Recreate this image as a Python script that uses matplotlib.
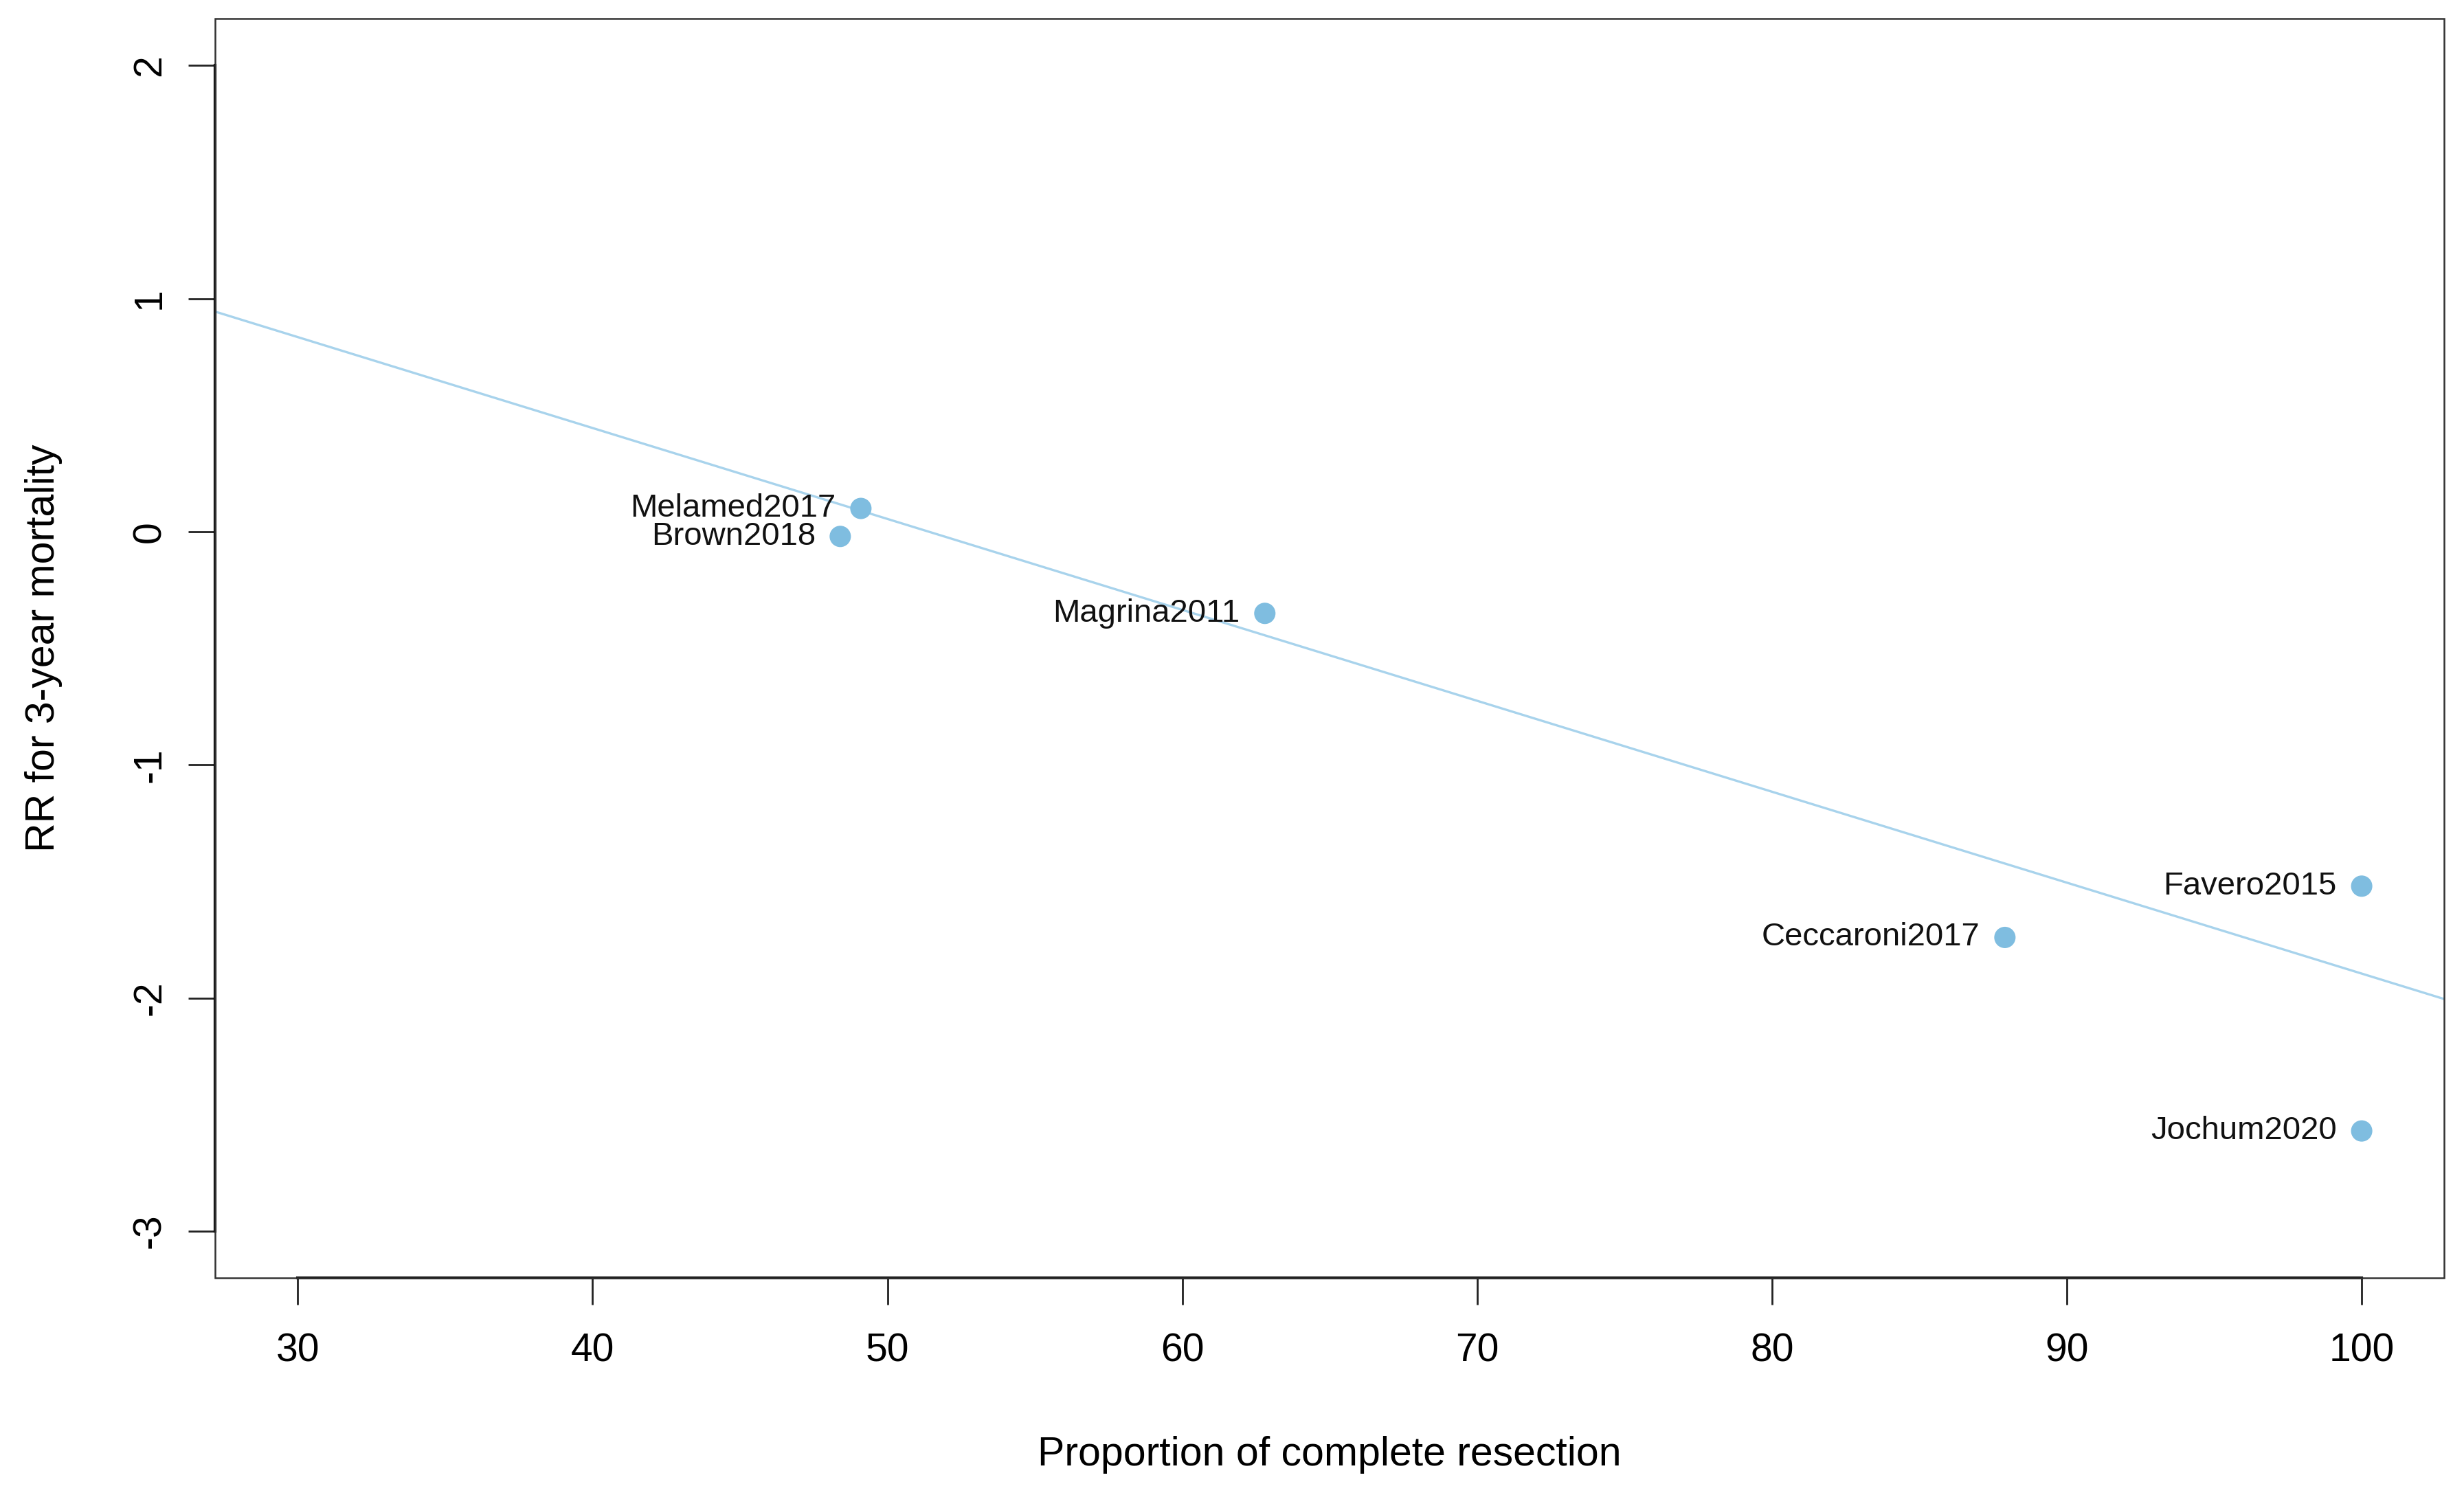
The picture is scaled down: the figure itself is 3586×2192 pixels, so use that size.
import matplotlib
matplotlib.use("Agg")
import matplotlib.pyplot as plt
from matplotlib.patches import Rectangle

plt.rcParams["font.family"] = ["Liberation Sans", "DejaVu Sans"]
plt.rcParams["axes.unicode_minus"] = False

# studies and values
studies = ["Melamed2017", "Brown2018", "Magrina2011", "Favero2015", "Ceccaroni2017", "Jochum2020"]
complete_resection = [49.1, 48.4, 62.8, 100.0, 87.9, 100.0]
rr_mortality = [0.10, -0.02, -0.35, -1.52, -1.74, -2.57]

# meta-regression line
fit_intercept = 2.005
fit_slope = -0.039

x_ticks = [30, 40, 50, 60, 70, 80, 90, 100]
y_ticks = [-3, -2, -1, 0, 1, 2]

point_color = "#7fbde0"
line_color = "#a8d3ec"

fig = plt.figure(figsize=(35.87, 21.92), dpi=100)
ax = fig.add_axes([0.0873, 0.1515, 0.9044, 0.836])

ax.set_xlim(30 - 0.04 * 70, 100 + 0.04 * 70)
ax.set_ylim(-3 - 0.04 * 5, 2 + 0.04 * 5)

ax.axline((0, fit_intercept), slope=fit_slope, color=line_color, lw=2.4, zorder=2)
ax.scatter(complete_resection, rr_mortality, s=500, color=point_color, edgecolors="none", zorder=3)

for name, xv, yv in zip(studies, complete_resection, rr_mortality):
    ax.annotate(name, (xv, yv), xytext=(-26, 0), textcoords="offset points",
                ha="right", va="center", fontsize=34, color="#111111")

# R-style box plus axis lines spanning the ticks
for side in ["top", "right", "left", "bottom"]:
    ax.spines[side].set_visible(False)
ax.add_patch(Rectangle((0, 0), 1, 1, transform=ax.transAxes, fill=False,
                       edgecolor="#333333", lw=1.8, zorder=5, clip_on=False))
ax.spines["left"].set_visible(True)
ax.spines["bottom"].set_visible(True)
ax.spines["left"].set_bounds(-3, 2)
ax.spines["bottom"].set_bounds(30, 100)
ax.spines["left"].set_linewidth(3)
ax.spines["bottom"].set_linewidth(3)

ax.set_xticks(x_ticks)
ax.set_yticks(y_ticks)
ax.tick_params(axis="both", direction="out", length=28, width=2, labelsize=41, color="#222222")
ax.tick_params(axis="x", pad=29)
ax.tick_params(axis="y", pad=21, labelrotation=90)
for lab in ax.get_yticklabels():
    lab.set_va("center")

ax.set_xlabel("Proportion of complete resection", fontsize=42.5)
ax.set_ylabel("RR for 3-year mortality", fontsize=42.5)
ax.xaxis.set_label_coords(0.5, -0.1408)
ax.xaxis.label.set_va("center")
ax.yaxis.set_label_coords(-0.0768, 0.5)
ax.yaxis.label.set_va("center")

fig.savefig("out.png", dpi=100, facecolor="white")
